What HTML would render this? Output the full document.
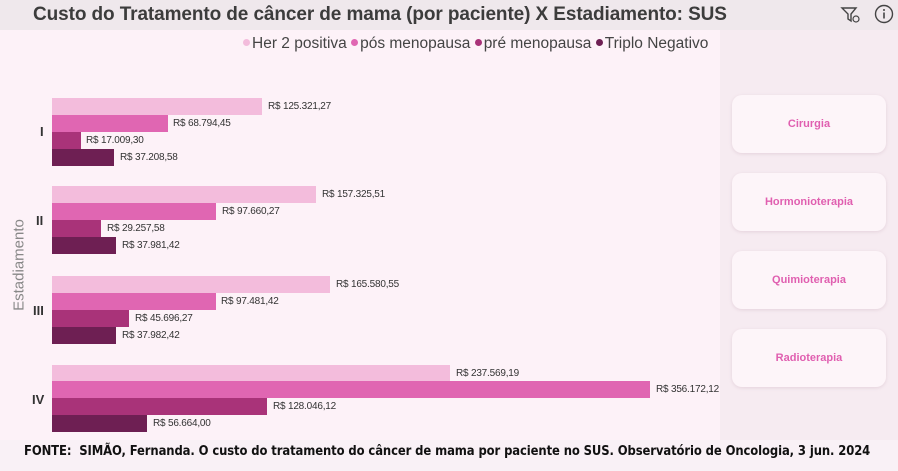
<!DOCTYPE html>
<html><head><meta charset="utf-8"><style>
*{margin:0;padding:0;box-sizing:border-box}
body{width:898px;height:471px;background:#f6ebf1;font-family:"Liberation Sans",sans-serif;position:relative;overflow:hidden}
.abs{position:absolute}
.title{left:0;top:0;width:898px;height:30px;background:#efe8ec}
.title span{position:absolute;left:33px;top:4px;font-size:19px;font-weight:bold;color:#3c3c3c;white-space:nowrap;letter-spacing:-0.1px}
.panel{left:0;top:30px;width:720px;height:410px;background:#fdf2f8}
.bar{position:absolute;left:52px;height:17px}
.c1{background:#f3bcdc}.c2{background:#e066b2}.c3{background:#a93379}.c4{background:#6e1f53}
.lbl{position:absolute;font-size:10px;color:#333;white-space:nowrap;letter-spacing:-0.2px}
.cat{position:absolute;font-size:13px;font-weight:bold;color:#333}
.btn{position:absolute;left:732px;width:154px;height:58px;background:#fdf5f9;border-radius:10px;box-shadow:0 1px 3px rgba(180,140,160,.25);color:#e05fb0;font-size:11px;font-weight:bold;text-align:center;line-height:58px}
.leg{top:35px;left:243px;font-size:15.5px;color:#444;white-space:nowrap}
.dot{display:inline-block;width:7px;height:7px;border-radius:50%;margin:0 2px 2px 0;vertical-align:middle}
.foot{left:0;top:440px;width:898px;height:31px;background:#f9f1f6}
.foot span{position:absolute;left:24px;top:4px;font-size:12.9px;font-weight:bold;color:#111;white-space:nowrap;font-family:"DejaVu Sans Condensed","Liberation Sans",sans-serif;letter-spacing:-0.1px}
</style></head><body>
<div class="abs title"><span>Custo do Tratamento de câncer de mama (por paciente) X Estadiamento: SUS</span></div>
<svg class="abs" style="left:840px;top:5px" width="22" height="20" viewBox="0 0 22 20"><path d="M2 3h14l-5 6v7l-3-2V9z" fill="none" stroke="#444" stroke-width="1.4"/><circle cx="16" cy="14" r="3" fill="none" stroke="#444" stroke-width="1.2"/></svg>
<svg class="abs" style="left:874px;top:4px" width="20" height="20"><circle cx="10" cy="10" r="8.5" fill="none" stroke="#444" stroke-width="1.4"/><rect x="9.2" y="8.5" width="1.6" height="6" fill="#444"/><circle cx="10" cy="6" r="1" fill="#444"/></svg>
<div class="abs panel"></div>
<div class="abs leg"><span class="dot c1"></span>Her 2 positiva <span class="dot c2"></span>pós menopausa <span class="dot c3"></span>pré menopausa <span class="dot c4"></span>Triplo Negativo</div>
<div class="abs" style="left:9px;top:265px;transform:translate(0,-50%) rotate(-90deg);transform-origin:center;font-size:15px;color:#888;width:20px;height:20px"><span style="position:absolute;left:50%;top:50%;transform:translate(-50%,-50%);white-space:nowrap">Estadiamento</span></div>

<div class="cat" style="left:40px;top:124px">I</div>
<div class="bar c1" style="top:98px;width:210px"></div><div class="lbl" style="left:268px;top:101px">R$ 125.321,27</div>
<div class="bar c2" style="top:115px;width:116px"></div><div class="lbl" style="left:173px;top:118px">R$ 68.794,45</div>
<div class="bar c3" style="top:132px;width:29px"></div><div class="lbl" style="left:86px;top:135px">R$ 17.009,30</div>
<div class="bar c4" style="top:149px;width:62px"></div><div class="lbl" style="left:120px;top:152px">R$ 37.208,58</div>

<div class="cat" style="left:36px;top:213px">II</div>
<div class="bar c1" style="top:186px;width:264px"></div><div class="lbl" style="left:322px;top:189px">R$ 157.325,51</div>
<div class="bar c2" style="top:203px;width:164px"></div><div class="lbl" style="left:222px;top:206px">R$ 97.660,27</div>
<div class="bar c3" style="top:220px;width:49px"></div><div class="lbl" style="left:107px;top:223px">R$ 29.257,58</div>
<div class="bar c4" style="top:237px;width:64px"></div><div class="lbl" style="left:122px;top:240px">R$ 37.981,42</div>

<div class="cat" style="left:33px;top:303px">III</div>
<div class="bar c1" style="top:276px;width:278px"></div><div class="lbl" style="left:336px;top:279px">R$ 165.580,55</div>
<div class="bar c2" style="top:293px;width:164px"></div><div class="lbl" style="left:221px;top:296px">R$ 97.481,42</div>
<div class="bar c3" style="top:310px;width:77px"></div><div class="lbl" style="left:135px;top:313px">R$ 45.696,27</div>
<div class="bar c4" style="top:327px;width:64px"></div><div class="lbl" style="left:122px;top:330px">R$ 37.982,42</div>

<div class="cat" style="left:32px;top:392px">IV</div>
<div class="bar c1" style="top:365px;width:398px"></div><div class="lbl" style="left:456px;top:368px">R$ 237.569,19</div>
<div class="bar c2" style="top:381px;width:598px"></div><div class="lbl" style="left:656px;top:384px">R$ 356.172,12</div>
<div class="bar c3" style="top:398px;width:215px"></div><div class="lbl" style="left:273px;top:401px">R$ 128.046,12</div>
<div class="bar c4" style="top:415px;width:95px"></div><div class="lbl" style="left:153px;top:418px">R$ 56.664,00</div>

<div class="btn" style="top:95px">Cirurgia</div>
<div class="btn" style="top:173px">Hormonioterapia</div>
<div class="btn" style="top:251px">Quimioterapia</div>
<div class="btn" style="top:329px">Radioterapia</div>

<div class="abs foot"><span>FONTE:&nbsp; SIMÃO, Fernanda. O custo do tratamento do câncer de mama por paciente no SUS. Observatório de Oncologia, 3 jun. 2024</span></div>
</body></html>
